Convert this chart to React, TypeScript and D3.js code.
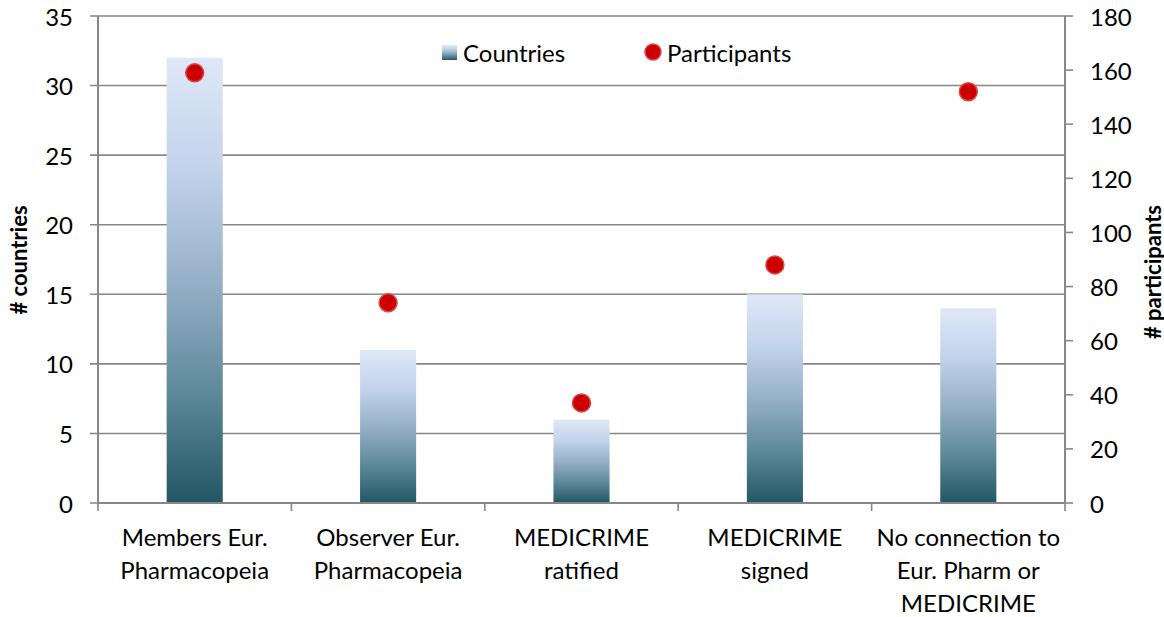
import * as d3 from "d3"

// Chart data
const categories = [
  ["Members Eur.", "Pharmacopeia"],
  ["Observer Eur.", "Pharmacopeia"],
  ["MEDICRIME", "ratified"],
  ["MEDICRIME", "signed"],
  ["No connection to", "Eur. Pharm or", "MEDICRIME"],
]
const countries = [32, 11, 6, 15, 14]
const participants = [159, 74, 37, 88, 152]
const leftTicks = [0, 5, 10, 15, 20, 25, 30, 35]
const rightTicks = [0, 20, 40, 60, 80, 100, 120, 140, 160, 180]

const W = 1164
const H = 617
const margin = { top: 16, right: 99, bottom: 114, left: 98 }
const FONT = "Lato, 'Open Sans', sans-serif"
const GRID = "#878787"

export default function App() {
  const innerW = W - margin.left - margin.right
  const innerH = H - margin.top - margin.bottom
  const keys = categories.map((_, i) => String(i))

  const x = d3.scaleBand().domain(keys).range([0, innerW]).paddingInner(0).paddingOuter(0)
  const yL = d3.scaleLinear().domain([0, 35]).range([innerH, 0])
  const yR = d3.scaleLinear().domain([0, 180]).range([innerH, 0])
  const barW = x.bandwidth() * 0.29

  return (
    <svg width={W} height={H} style={{ position: "absolute", left: 0, top: 0 }} fontFamily={FONT}>
      <defs>
        <linearGradient id="barGrad" x1="0" y1="0" x2="0" y2="1">
          <stop offset="0" stopColor="#dfe8f6" />
          <stop offset="0.25" stopColor="#c3d3ec" />
          <stop offset="0.5" stopColor="#96b0c8" />
          <stop offset="0.75" stopColor="#5e899b" />
          <stop offset="1" stopColor="#225665" />
        </linearGradient>
      </defs>
      <g transform={`translate(${margin.left},${margin.top})`}>
        {/* gridlines */}
        {leftTicks.map((t) => (
          <line key={"g" + t} x1={-8} x2={innerW} y1={yL(t)} y2={yL(t)} stroke={GRID} strokeWidth={1.6} />
        ))}
        {/* right ticks */}
        {rightTicks.map((t) => (
          <line key={"rt" + t} x1={innerW} x2={innerW + 8} y1={yR(t)} y2={yR(t)} stroke={GRID} strokeWidth={1.6} />
        ))}
        {/* x ticks between categories */}
        {d3.range(keys.length + 1).map((i) => (
          <line key={"xt" + i} x1={i * x.step()} x2={i * x.step()} y1={innerH} y2={innerH + 8} stroke={GRID} strokeWidth={1.6} />
        ))}
        {/* bars */}
        {countries.map((v, i) => (
          <rect
            key={"b" + i}
            x={(x(keys[i]) ?? 0) + (x.bandwidth() - barW) / 2}
            y={yL(v)}
            width={barW}
            height={innerH - yL(v)}
            fill="url(#barGrad)"
          />
        ))}
        {/* axes */}
        <line x1={0} x2={0} y1={0} y2={innerH} stroke={GRID} strokeWidth={2} />
        <line x1={innerW} x2={innerW} y1={0} y2={innerH} stroke={GRID} strokeWidth={2} />
        <line x1={0} x2={innerW} y1={innerH} y2={innerH} stroke={GRID} strokeWidth={2} />
        {/* participant markers */}
        {participants.map((v, i) => (
          <circle
            key={"p" + i}
            cx={(x(keys[i]) ?? 0) + x.bandwidth() / 2}
            cy={yR(v)}
            r={9}
            fill="#cc0000"
            stroke="#d94a4a"
            strokeWidth={1.5}
          />
        ))}
        {/* left tick labels */}
        {leftTicks.map((t) => (
          <text key={"lt" + t} x={-25} y={yL(t)} textAnchor="end" dominantBaseline="central" fontSize={24}>
            {t}
          </text>
        ))}
        {/* right tick labels */}
        {rightTicks.map((t) => (
          <text key={"rl" + t} x={innerW + 25} y={yR(t)} textAnchor="start" dominantBaseline="central" fontSize={24}>
            {t}
          </text>
        ))}
        {/* category labels */}
        {categories.map((lines, i) => (
          <text key={"c" + i} textAnchor="middle" fontSize={24}>
            {lines.map((l, j) => (
              <tspan key={j} x={(x(keys[i]) ?? 0) + x.bandwidth() / 2} y={innerH + 33 + j * 33} dominantBaseline="central">
                {l}
              </tspan>
            ))}
          </text>
        ))}
      </g>
      {/* axis titles */}
      <text transform={`translate(18,260) rotate(-90)`} textAnchor="middle" dominantBaseline="central" fontSize={22} fontWeight="bold">
        # countries
      </text>
      <text transform={`translate(1152,272) rotate(-90)`} textAnchor="middle" dominantBaseline="central" fontSize={22} fontWeight="bold">
        # participants
      </text>
      {/* legend */}
      <rect x={442} y={45} width={15} height={15} fill="url(#barGrad)" />
      <text x={463} y={52} dominantBaseline="central" fontSize={24}>
        Countries
      </text>
      <circle cx={653} cy={52} r={8} fill="#cc0000" stroke="#d94a4a" strokeWidth={1.5} />
      <text x={667} y={52} dominantBaseline="central" fontSize={24}>
        Participants
      </text>
    </svg>
  )
}
